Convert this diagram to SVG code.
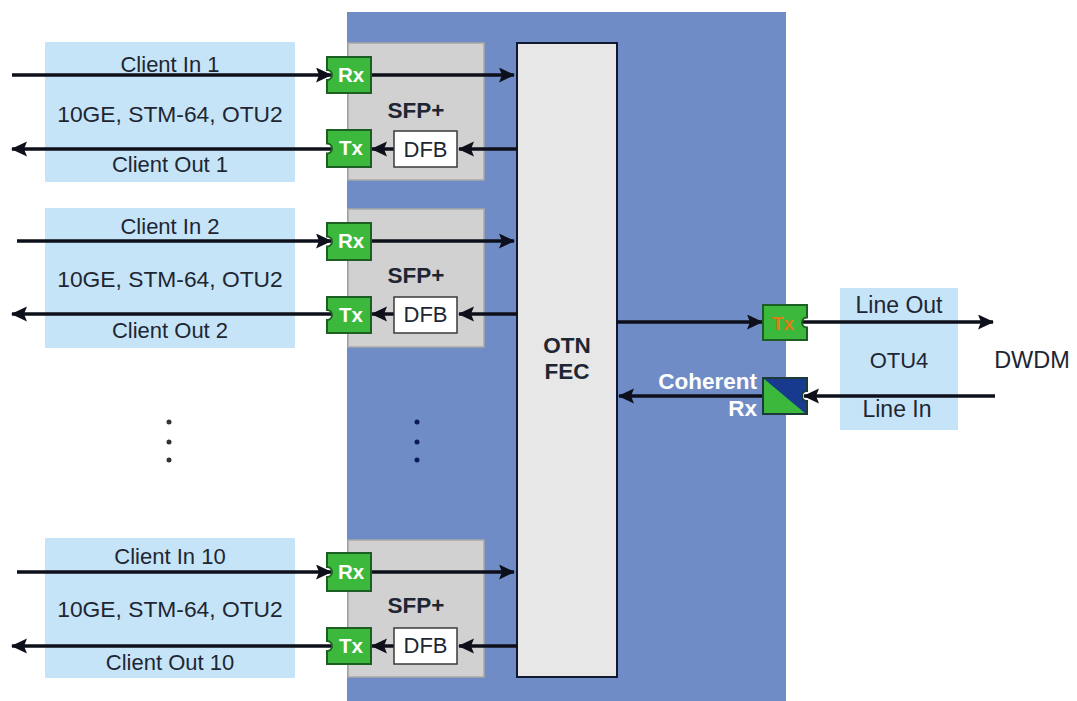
<svg xmlns="http://www.w3.org/2000/svg" width="1077" height="701" viewBox="0 0 1077 701">
<defs>
<style>
text{font-family:"Liberation Sans",Arial,sans-serif;font-size:22px;fill:#1e2633;text-anchor:middle}
.b{font-weight:bold;font-size:22.5px}
.w{fill:#ffffff;font-weight:bold}
.rt{fill:#ffffff;font-weight:bold;font-size:20.5px}
.client{fill:#c6e4f7}
.sfp{fill:#d1d1d1;stroke:#a8a8a8;stroke-width:1.5}
.green{fill:#3cb83c;stroke:#1d5f22;stroke-width:2}
.dfb{fill:#ffffff;stroke:#3a3a3a;stroke-width:1.5}
.ln{stroke:#0d0f1a;stroke-width:3.5;fill:none}
.a{marker-end:url(#ah)}
</style>
<marker id="ah" markerUnits="userSpaceOnUse" markerWidth="17" markerHeight="16" refX="15" refY="7.5" orient="auto">
<path d="M0,0 L16,7.5 L0,15 L3,7.5 Z" fill="#0d0f1a"/>
</marker>
<clipPath id="cohclip"><path d="M763,378 H807 V391 A5,5 0 0 0 807,401 V414 H763 Z"/></clipPath>
</defs>
<rect width="1077" height="701" fill="#ffffff"/>

<g id="card">
<rect x="347" y="12" width="439" height="700" fill="#6f8cc6"/>
</g>

<g id="client1">
<rect class="client" x="45" y="42" width="250" height="140"/>
<text x="170" y="72">Client In 1</text>
<text x="170" y="122" style="font-size:22.8px">10GE, STM-64, OTU2</text>
<text x="170" y="172">Client Out 1</text>
</g>
<g id="client2">
<rect class="client" x="45" y="208" width="250" height="140"/>
<text x="170" y="234">Client In 2</text>
<text x="170" y="287" style="font-size:22.8px">10GE, STM-64, OTU2</text>
<text x="170" y="338">Client Out 2</text>
</g>
<g id="client10">
<rect class="client" x="45" y="538" width="250" height="140"/>
<text x="170" y="564">Client In 10</text>
<text x="170" y="617" style="font-size:22.8px">10GE, STM-64, OTU2</text>
<text x="170" y="670">Client Out 10</text>
</g>

<g id="sfp1">
<rect class="sfp" x="348" y="43" width="136" height="137"/>
<text class="b" x="416" y="118">SFP+</text>
</g>
<g id="sfp2">
<rect class="sfp" x="348" y="209" width="136" height="138"/>
<text class="b" x="416" y="283">SFP+</text>
</g>
<g id="sfp10">
<rect class="sfp" x="348" y="540" width="136" height="137"/>
<text class="b" x="416" y="613">SFP+</text>
</g>

<g id="otnfec">
<rect x="517" y="43" width="100" height="634" fill="#e7e7e7" stroke="#101830" stroke-width="2"/>
<text class="b" x="567" y="353">OTN</text>
<text class="b" x="567" y="379">FEC</text>
</g>

<g id="lineside">
<rect class="client" x="840" y="288" width="118" height="142"/>
<text x="899" y="313" style="font-size:23px">Line Out</text>
<text x="899" y="368">OTU4</text>
<text x="897" y="417" style="font-size:23px">Line In</text>
</g>
<g id="dwdm">
<text x="1032" y="368" style="font-size:23.5px">DWDM</text>
</g>

<g id="connectors">
<line class="ln a" x1="12" y1="75" x2="331" y2="75"/>
<line class="ln a" x1="371" y1="75" x2="514" y2="75"/>
<line class="ln a" x1="517" y1="149" x2="459" y2="149"/>
<line class="ln a" x1="394" y1="149" x2="372" y2="149"/>
<line class="ln a" x1="331" y1="149" x2="12" y2="149"/>

<line class="ln a" x1="17" y1="241" x2="331" y2="241"/>
<line class="ln a" x1="371" y1="241" x2="514" y2="241"/>
<line class="ln a" x1="517" y1="314" x2="459" y2="314"/>
<line class="ln a" x1="394" y1="314" x2="372" y2="314"/>
<line class="ln a" x1="331" y1="314" x2="12" y2="314"/>

<line class="ln a" x1="17" y1="572" x2="331" y2="572"/>
<line class="ln a" x1="371" y1="572" x2="514" y2="572"/>
<line class="ln a" x1="517" y1="646" x2="459" y2="646"/>
<line class="ln a" x1="394" y1="646" x2="372" y2="646"/>
<line class="ln a" x1="331" y1="646" x2="12" y2="646"/>

<line class="ln a" x1="617" y1="322" x2="762" y2="322"/>
<line class="ln a" x1="803" y1="322" x2="993" y2="322"/>
<line class="ln a" x1="995" y1="396" x2="804" y2="396"/>
<line class="ln a" x1="763" y1="396" x2="619" y2="396"/>
</g>

<g id="rx1">
<path class="green" d="M327,57 H371 V93 H327 V80 A5,5 0 0 0 327,70 Z"/>
<text class="rt" x="351" y="82">Rx</text>
</g>
<g id="tx1">
<path class="green" d="M327,130 H371 V167 H327 V153.5 A5,5 0 0 0 327,143.5 Z"/>
<text class="rt" x="351" y="155">Tx</text>
</g>
<g id="dfb1">
<rect class="dfb" x="394" y="131" width="63" height="36"/>
<text x="425.5" y="157">DFB</text>
</g>

<g id="rx2">
<path class="green" d="M327,223 H371 V260 H327 V246.5 A5,5 0 0 0 327,236.5 Z"/>
<text class="rt" x="351" y="248">Rx</text>
</g>
<g id="tx2">
<path class="green" d="M327,297 H371 V333 H327 V320 A5,5 0 0 0 327,310 Z"/>
<text class="rt" x="351" y="322">Tx</text>
</g>
<g id="dfb2">
<rect class="dfb" x="394" y="297" width="63" height="36"/>
<text x="425.5" y="322">DFB</text>
</g>

<g id="rx10">
<path class="green" d="M327,553 H371 V591 H327 V577 A5,5 0 0 0 327,567 Z"/>
<text class="rt" x="351" y="579">Rx</text>
</g>
<g id="tx10">
<path class="green" d="M327,628 H371 V664 H327 V651 A5,5 0 0 0 327,641 Z"/>
<text class="rt" x="351" y="653">Tx</text>
</g>
<g id="dfb10">
<rect class="dfb" x="394" y="628" width="63" height="36"/>
<text x="425.5" y="653">DFB</text>
</g>

<g id="linetx">
<path class="green" d="M763,305 H807 V317.5 A5,5 0 0 0 807,327.5 V340 H763 Z"/>
<text x="783" y="330" style="font-size:19px;font-weight:bold;fill:#e07a12">Tx</text>
</g>
<g id="coherentrx">
<path d="M763,378 H807 V391 A5,5 0 0 0 807,401 V414 H763 Z" fill="#3cb83c"/>
<polygon points="763,378 812,378 812,419" fill="#173a8e" clip-path="url(#cohclip)"/>
<path d="M763,378 H807 V391 A5,5 0 0 0 807,401 V414 H763 Z" fill="none" stroke="#1d3a3a" stroke-width="2"/>
<text class="w" x="757" y="389" style="text-anchor:end;font-size:22.5px">Coherent</text>
<text class="w" x="757" y="416" style="text-anchor:end;font-size:22.5px">Rx</text>
</g>

<g id="dots">
<circle cx="169" cy="422" r="2.5" fill="#333"/>
<circle cx="169" cy="442" r="2.5" fill="#333"/>
<circle cx="169" cy="460" r="2.5" fill="#333"/>
<circle cx="417" cy="422" r="2.5" fill="#0a1a5a"/>
<circle cx="417" cy="442" r="2.5" fill="#0a1a5a"/>
<circle cx="417" cy="460" r="2.5" fill="#0a1a5a"/>
</g>
</svg>
